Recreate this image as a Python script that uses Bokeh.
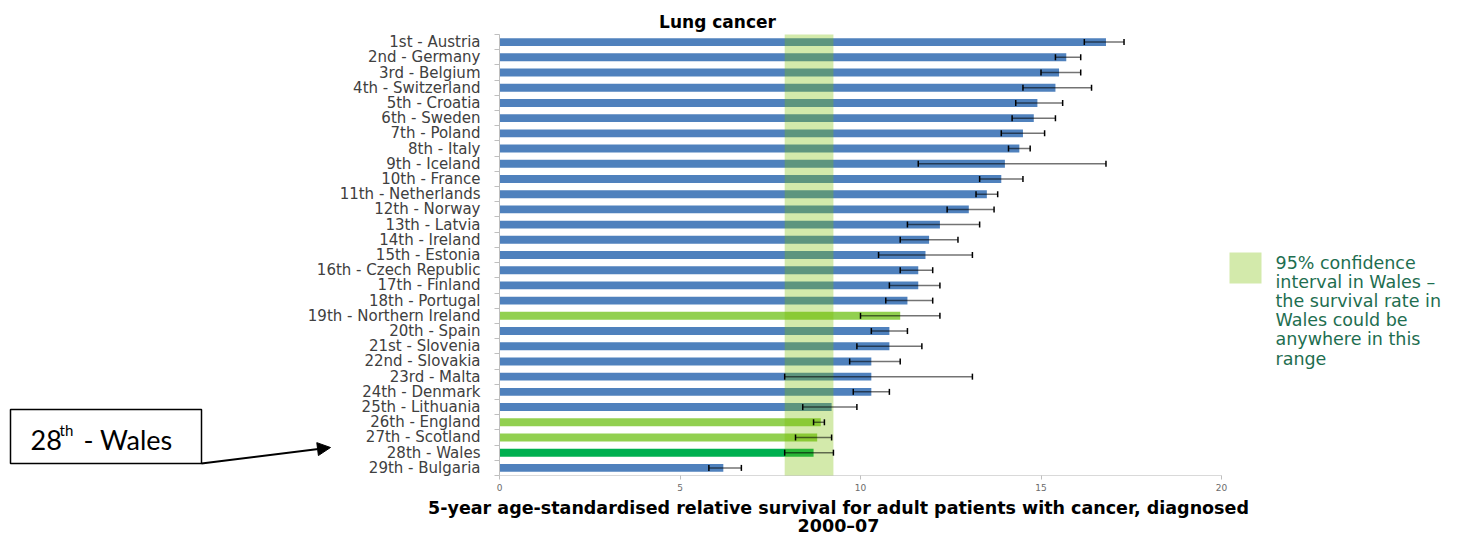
from bokeh.plotting import figure
from bokeh.models import (ColumnDataSource, Range1d, FixedTicker, Label, BoxAnnotation,
                          Whisker, TeeHead, Arrow, NormalHead)
from bokeh.embed import file_html
from bokeh.resources import INLINE

# ---------------- data ----------------
labels = ["1st - Austria", "2nd - Germany", "3rd - Belgium", "4th - Switzerland", "5th - Croatia",
          "6th - Sweden", "7th - Poland", "8th - Italy", "9th - Iceland", "10th - France",
          "11th - Netherlands", "12th - Norway", "13th - Latvia", "14th - Ireland", "15th - Estonia",
          "16th - Czech Republic", "17th - Finland", "18th - Portugal", "19th - Northern Ireland",
          "20th - Spain", "21st - Slovenia", "22nd - Slovakia", "23rd - Malta", "24th - Denmark",
          "25th - Lithuania", "26th - England", "27th - Scotland", "28th - Wales", "29th - Bulgaria"]
survival = [16.8, 15.7, 15.5, 15.4, 14.9, 14.8, 14.5, 14.4, 14.0, 13.9,
            13.5, 13.0, 12.2, 11.9, 11.8, 11.6, 11.6, 11.3, 11.1, 10.8,
            10.8, 10.3, 10.3, 10.3, 9.2, 8.9, 8.8, 8.7, 6.2]
ci_lower = [16.2, 15.4, 15.0, 14.5, 14.3, 14.2, 13.9, 14.1, 11.6, 13.3,
            13.2, 12.4, 11.3, 11.1, 10.5, 11.1, 10.8, 10.7, 10.0, 10.3,
            9.9, 9.7, 7.9, 9.8, 8.4, 8.7, 8.2, 7.9, 5.8]
ci_upper = [17.3, 16.1, 16.1, 16.4, 15.6, 15.4, 15.1, 14.7, 16.8, 14.5,
            13.8, 13.7, 13.3, 12.7, 13.1, 12.0, 12.2, 12.0, 12.2, 11.3,
            11.7, 11.1, 13.1, 10.8, 9.9, 9.0, 9.2, 9.25, 6.7]
uk_nations = ["Northern Ireland", "England", "Scotland"]
highlight = "Wales"
x_ticks = [0, 5, 10, 15, 20]
x_max = 20
chart_title = "Lung cancer"
x_title = ["5-year age-standardised relative survival for adult patients with cancer, diagnosed",
           "2000\u201307"]
legend_lines = ["95% confidence", "interval in Wales \u2013", "the survival rate in",
                "Wales could be", "anywhere in this", "range"]
callout = ("28", "th", "- Wales")

# ---------------- layout (pixels) ----------------
W, H = 1460, 534
PX_L, PX_R = 499, 1221      # where x = 0 and x = x_max fall
PY_T, PY_B = 34, 475        # top edge of first row, bottom edge of last row

def bar_color(lab):
    name = lab.split(" - ", 1)[1]
    if name == highlight:
        return "#00b050"
    if name in uk_nations:
        return "#92d050"
    return "#4f81bd"

n = len(labels)
ypos = list(range(1, n + 1))
src = ColumnDataSource(dict(y=ypos, val=survival, lo=ci_lower, hi=ci_upper,
                            color=[bar_color(l) for l in labels]))
w_idx = [l.split(" - ", 1)[1] for l in labels].index(highlight)

kx = (PX_R - PX_L) / x_max
ky = (PY_B - PY_T) / n
x_range = Range1d(-PX_L / kx, x_max + (W - PX_R) / kx)
y_range = Range1d(start=n + 0.5 + (H - PY_B) / ky, end=0.5 - PY_T / ky)

# frame fills the whole canvas; axes are drawn at fixed data locations
p = figure(width=W, height=H, x_range=x_range, y_range=y_range, title=None,
           output_backend="svg", toolbar_location=None,
           min_border_left=0, min_border_right=0, min_border_top=0, min_border_bottom=0)
p.outline_line_color = None
p.xgrid.visible = False
p.ygrid.visible = False
p.background_fill_color = "white"
p.border_fill_color = "white"

def sx(X):
    return X
def sy(Y):
    return H - Y

p.hbar(y="y", left=0, right="val", height=0.52, fill_color="color", line_color=None, source=src)

# Wales confidence band
p.add_layout(BoxAnnotation(left=ci_lower[w_idx], right=ci_upper[w_idx], top=0.5, bottom=n + 0.5,
                           fill_color="#7abf00", fill_alpha=0.33, line_color=None,
                           level="annotation"))

p.add_layout(Whisker(base="y", lower="lo", upper="hi", dimension="width", source=src,
                     line_color="black", line_alpha=0.55, line_width=1.5, level="overlay",
                     upper_head=TeeHead(size=6, line_color="black", line_width=1.5),
                     lower_head=TeeHead(size=6, line_color="black", line_width=1.5)))

# x axis
xa = p.xaxis[0]
xa.fixed_location = n + 0.5
xa.bounds = (0, x_max)
xa.ticker = FixedTicker(ticks=x_ticks)
xa.axis_line_color = "#d9d9d9"
xa.major_tick_line_color = "#bfbfbf"
xa.major_tick_out = 4
xa.major_tick_in = 0
xa.minor_tick_line_color = None
xa.major_label_text_font = "DejaVu Sans"
xa.major_label_text_font_size = "9px"
xa.major_label_text_color = "#6b6b6b"
xa.major_label_standoff = 4

# y axis
ya = p.yaxis[0]
ya.fixed_location = 0
ya.bounds = (0.5, n + 0.5)
ya.ticker = FixedTicker(ticks=ypos, minor_ticks=[i + 0.5 for i in range(0, n + 1)])
ya.major_label_overrides = {i + 1: lab for i, lab in enumerate(labels)}
ya.axis_line_color = "#bfbfbf"
ya.major_tick_line_color = None
ya.major_tick_out = 0
ya.major_tick_in = 0
ya.minor_tick_line_color = "#bfbfbf"
ya.minor_tick_out = 5
ya.minor_tick_in = 0
ya.major_label_text_font = "DejaVu Sans"
ya.major_label_text_font_size = "15px"
ya.major_label_text_color = "#404040"
ya.major_label_standoff = 14

# title
p.add_layout(Label(x=sx(717), y=sy(21), x_units="screen", y_units="screen", text=chart_title,
                   text_font="DejaVu Sans", text_font_style="bold", text_font_size="17px",
                   text_align="center", text_baseline="middle", text_color="black"))

# x-axis title (two lines)
for txt, Y in zip(x_title, [507, 525]):
    p.add_layout(Label(x=sx(838), y=sy(Y), x_units="screen", y_units="screen", text=txt,
                       text_font="DejaVu Sans", text_font_style="bold", text_font_size="17.5px",
                       text_align="center", text_baseline="middle", text_color="black"))

# legend for the band
p.add_layout(BoxAnnotation(left=sx(1229), right=sx(1261), top=sy(252), bottom=sy(283),
                           left_units="screen", right_units="screen", top_units="screen",
                           bottom_units="screen", fill_color="#d3eaab", fill_alpha=1.0,
                           line_color=None, level="overlay"))
for i, txt in enumerate(legend_lines):
    p.add_layout(Label(x=sx(1275), y=sy(262 + 19.2 * i), x_units="screen", y_units="screen",
                       text=txt, text_font="DejaVu Sans", text_font_size="17.5px",
                       text_align="left", text_baseline="middle", text_color="#1e6e50",
                       level="overlay"))

# callout box with arrow
p.add_layout(BoxAnnotation(left=sx(10), right=sx(201), top=sy(409), bottom=sy(463),
                           left_units="screen", right_units="screen", top_units="screen",
                           bottom_units="screen", fill_color="white", fill_alpha=1.0,
                           line_color="black", line_alpha=1.0, line_width=1.5, level="overlay"))
for txt, X, Y, size in [(callout[0], 30, 439, "27px"), (callout[1], 59, 429, "15px"),
                        (callout[2], 83, 439, "27px")]:
    p.add_layout(Label(x=sx(X), y=sy(Y), x_units="screen", y_units="screen", text=txt,
                       text_font="Lato", text_font_size=size, text_baseline="middle",
                       text_color="black", level="overlay"))
p.add_layout(Arrow(x_start=sx(201), y_start=sy(463), x_end=sx(330), y_end=sy(447),
                   start_units="screen", end_units="screen", line_width=2, line_color="black",
                   end=NormalHead(size=13, fill_color="black", line_color="black"),
                   level="overlay"))

open("out.html", "w").write(file_html(p, INLINE))
